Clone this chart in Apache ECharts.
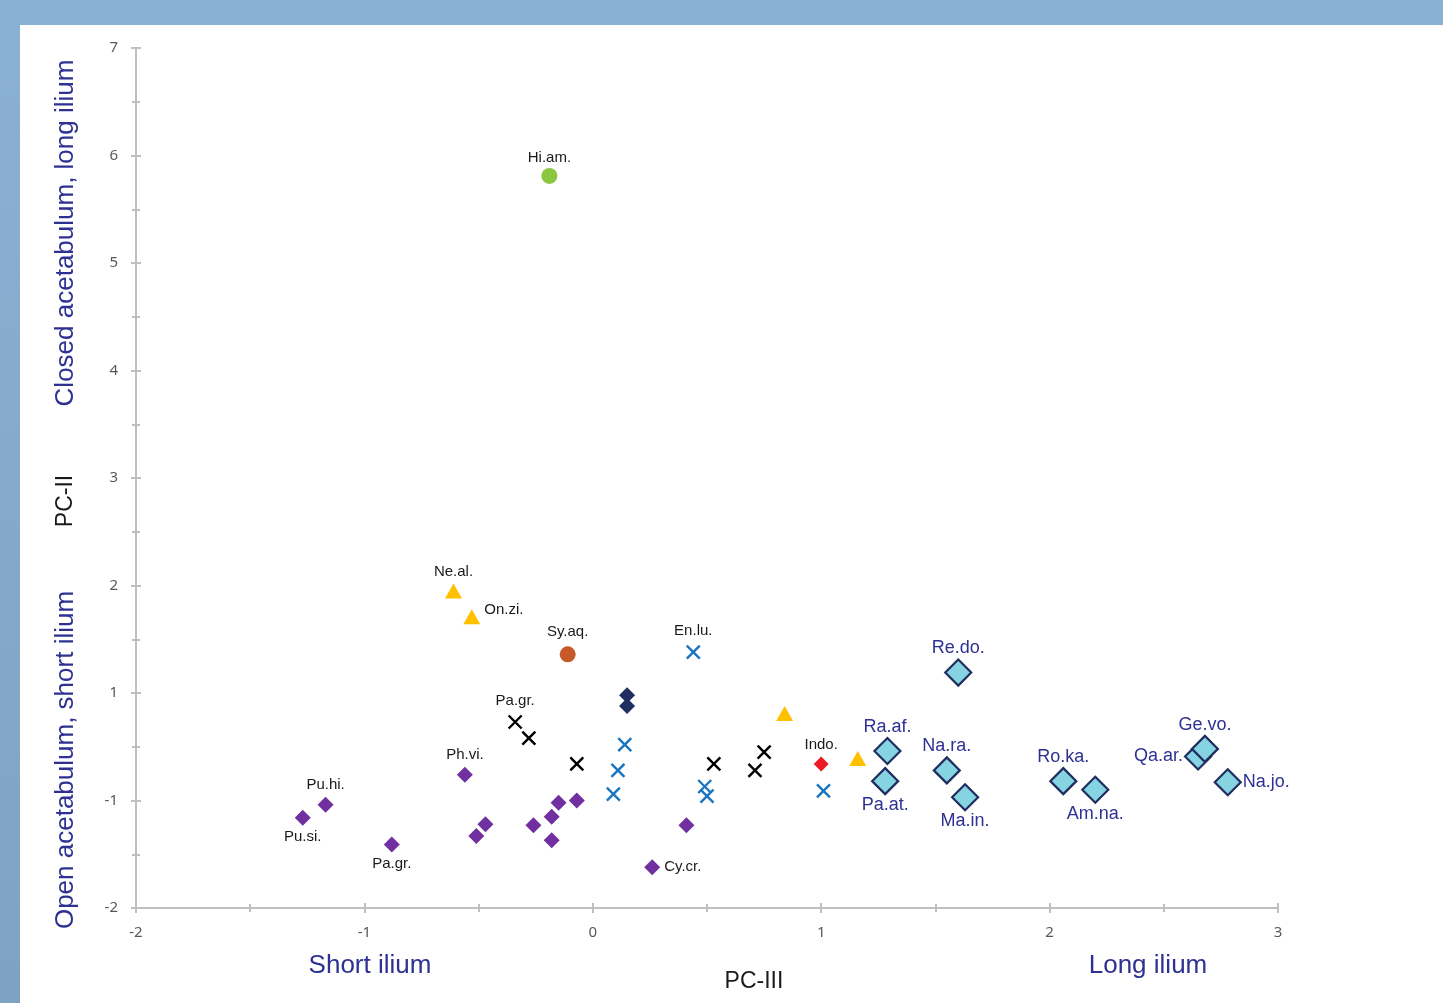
<!DOCTYPE html>
<html><head><meta charset="utf-8">
<script src="https://cdn.jsdelivr.net/npm/echarts@6/dist/echarts.min.js"></script>
<style>html,body{margin:0;padding:0;background:#fff}#c{width:1443px;height:1003px}</style>
</head><body><div id="c"></div>
<script>
// ---- Data (PC-III, PC-II) ----
const yTickLabels = ['-2', '-1', '1', '2', '3', '4', '5', '6', '7']; // labels for axis positions -1..7

const purplePts = [[-1.27,-0.16],[-1.17,-0.04],[-0.88,-0.41],[-0.56,0.24],[-0.47,-0.22],[-0.51,-0.33],[-0.26,-0.23],[-0.18,-0.15],[-0.15,-0.02],[-0.07,0.00],[-0.18,-0.37],[0.41,-0.23],[0.26,-0.62]];
const purpleNames = ['Pu.si.','Pu.hi.','Pa.gr.','Ph.vi.','','','','','','','','','Cy.cr.'];

const navyPts = [[0.15,0.98],[0.15,0.88]];
const navyNames = ['',''];

const blackXPts = [[-0.34,0.73],[-0.28,0.58],[-0.07,0.34],[0.53,0.34],[0.71,0.28],[0.75,0.45]];
const blackXNames = ['Pa.gr.','','','','',''];

const blueXPts = [[0.44,1.38],[0.14,0.52],[0.11,0.28],[0.09,0.06],[0.49,0.13],[0.50,0.04],[1.01,0.09]];
const blueXNames = ['En.lu.','','','','','',''];

const yellowPts = [[-0.61,1.95],[-0.53,1.71],[0.84,0.81],[1.16,0.39]];
const yellowNames = ['Ne.al.','On.zi.','',''];

const greenPts = [[-0.19,5.81]];
const greenNames = ['Hi.am.'];

const orangePts = [[-0.11,1.36]];
const orangeNames = ['Sy.aq.'];

const redPts = [[1.00,0.34]];
const redNames = ['Indo.'];

const bigPts = [[1.60,1.19],[1.29,0.46],[1.28,0.18],[1.55,0.28],[1.63,0.03],[2.06,0.18],[2.20,0.10],[2.65,0.41],[2.68,0.48],[2.78,0.17]];
const bigNames = ['Re.do.','Ra.af.','Pa.at.','Na.ra.','Ma.in.','Ro.ka.','Am.na.','Qa.ar.','Ge.vo.','Na.jo.'];

// ---- Label placement (style) ----
const placement = {
  'Pu.si.': 'bottom', 'Pu.hi.': 'top', 'Pa.gr.': 'top', 'Ph.vi.': 'top', 'Cy.cr.': 'right',
  'En.lu.': 'top', 'Ne.al.': 'top', 'On.zi.': 'right', 'Hi.am.': 'top', 'Sy.aq.': 'top', 'Indo.': 'top',
  'Re.do.': 'top', 'Ra.af.': 'top', 'Pa.at.': 'bottom', 'Na.ra.': 'top', 'Ma.in.': 'bottom',
  'Ro.ka.': 'top', 'Am.na.': 'bottom', 'Qa.ar.': 'left', 'Ge.vo.': 'top', 'Na.jo.': 'right'
};
const purplePlacement = Object.assign({}, placement, {'Pa.gr.': 'bottom'});

function items(pts, names, place, extra) {
  return pts.map((p, i) => {
    const n = names[i];
    const it = { value: p, name: n };
    if (n) {
      it.label = Object.assign({ show: true, position: place[n] || 'top' }, (extra && extra[n]) || {});
    }
    return it;
  });
}

const blackLabel = { formatter: '{b}', color: '#1a1a1a', fontSize: 15, fontFamily: 'Liberation Sans, Arial, sans-serif', distance: 4 };
const blueLabel = { formatter: '{b}', color: '#2E3192', fontSize: 18, fontFamily: 'Liberation Sans, Arial, sans-serif', distance: 1 };
const crossPath = 'path://M0,0L10,10M10,0L0,10';

const axisCol = '#bfbfbf';
function xAx(inside) {
  return {
    type: 'value', min: -2, max: 3, interval: 1, position: 'bottom', gridIndex: 0,
    axisLine: { show: !inside, onZero: false, lineStyle: { color: axisCol, width: 2 } },
    axisTick: { show: true, inside: inside, length: 5, lineStyle: { color: axisCol, width: 2 } },
    minorTick: { show: true, splitNumber: 2, length: 4, lineStyle: { color: axisCol, width: 2 } },
    splitLine: { show: false }, minorSplitLine: { show: false },
    axisLabel: { show: !inside, color: '#595959', fontSize: 15, margin: 17, fontFamily: 'Noto Sans, sans-serif' }
  };
}
function yAx(inside) {
  return {
    type: 'value', min: -1, max: 7, interval: 1, position: 'left', gridIndex: 0,
    axisLine: { show: !inside, onZero: false, lineStyle: { color: axisCol, width: 2 } },
    axisTick: { show: true, inside: inside, length: 5, lineStyle: { color: axisCol, width: 2 } },
    minorTick: { show: true, splitNumber: 2, length: 4, lineStyle: { color: axisCol, width: 2 } },
    splitLine: { show: false }, minorSplitLine: { show: false },
    axisLabel: { show: !inside, color: '#595959', fontSize: 15, margin: 18, fontFamily: 'Noto Sans, sans-serif',
      formatter: v => yTickLabels[Math.round(v) + 1] }
  };
}

const chart = echarts.init(document.getElementById('c'), null, { renderer: 'canvas' });
const titleFont = 'Liberation Sans, Arial, sans-serif';
chart.setOption({
  backgroundColor: '#ffffff',
  animation: false,
  grid: { left: 136, top: 48, right: 165, bottom: 95 },
  xAxis: [xAx(false), xAx(true)],
  yAxis: [yAx(false), yAx(true)],
  graphic: [
    { type: 'rect', z: -10, shape: { x: 0, y: 0, width: 1443, height: 25 }, style: { fill: '#8AB0D4' } },
    { type: 'rect', z: -10, shape: { x: 0, y: 0, width: 20, height: 1003 },
      style: { fill: new echarts.graphic.LinearGradient(0, 0, 0, 1, [{ offset: 0, color: '#8AB0D4' }, { offset: 1, color: '#7EA3C2' }]) } },
    { type: 'text', x: 66, y: 233, rotation: Math.PI / 2, style: { text: 'Closed acetabulum, long ilium', fill: '#2E3192', font: '26px ' + titleFont, textAlign: 'center', textVerticalAlign: 'middle' } },
    { type: 'text', x: 66, y: 501, rotation: Math.PI / 2, style: { text: 'PC-II', fill: '#1a1a1a', font: '23px ' + titleFont, textAlign: 'center', textVerticalAlign: 'middle' } },
    { type: 'text', x: 66, y: 760, rotation: Math.PI / 2, style: { text: 'Open acetabulum, short ilium', fill: '#2E3192', font: '26px ' + titleFont, textAlign: 'center', textVerticalAlign: 'middle' } },
    { type: 'text', x: 370, y: 966, style: { text: 'Short ilium', fill: '#2E3192', font: '26px ' + titleFont, textAlign: 'center', textVerticalAlign: 'middle' } },
    { type: 'text', x: 754, y: 982, style: { text: 'PC-III', fill: '#1a1a1a', font: '23px ' + titleFont, textAlign: 'center', textVerticalAlign: 'middle' } },
    { type: 'text', x: 1148, y: 966, style: { text: 'Long ilium', fill: '#2E3192', font: '26px ' + titleFont, textAlign: 'center', textVerticalAlign: 'middle' } }
  ],
  series: [
    { type: 'scatter', symbol: 'diamond', symbolSize: 16, itemStyle: { color: '#7030A0', opacity: 1 }, label: blackLabel,
      data: items(purplePts, purpleNames, purplePlacement) },
    { type: 'scatter', symbol: 'diamond', symbolSize: 16, itemStyle: { color: '#1F2D5F', opacity: 1 }, label: blackLabel,
      data: items(navyPts, navyNames, placement) },
    { type: 'scatter', symbol: crossPath, symbolSize: 13, itemStyle: { color: 'rgba(0,0,0,0)', borderColor: '#000000', borderWidth: 2.4, opacity: 1 }, label: Object.assign({}, blackLabel, { distance: 6 }),
      data: items(blackXPts, blackXNames, placement) },
    { type: 'scatter', symbol: crossPath, symbolSize: 13, itemStyle: { color: 'rgba(0,0,0,0)', borderColor: '#1A75C0', borderWidth: 2.4, opacity: 1 }, label: Object.assign({}, blackLabel, { distance: 6 }),
      data: items(blueXPts, blueXNames, placement) },
    { type: 'scatter', symbol: 'triangle', symbolSize: [17, 15], itemStyle: { color: '#FFC000', opacity: 1 }, label: blackLabel,
      data: items(yellowPts, yellowNames, placement, { 'On.zi.': { offset: [0, -7] } }) },
    { type: 'scatter', symbol: 'circle', symbolSize: 16, itemStyle: { color: '#8CC63F', opacity: 1 }, label: Object.assign({}, blackLabel, { distance: 3 }),
      data: items(greenPts, greenNames, placement) },
    { type: 'scatter', symbol: 'circle', symbolSize: 16, itemStyle: { color: '#C55A28', opacity: 1 }, label: Object.assign({}, blackLabel, { distance: 7 }),
      data: items(orangePts, orangeNames, placement) },
    { type: 'scatter', symbol: 'diamond', symbolSize: 15, itemStyle: { color: '#ED1C24', opacity: 1 }, label: blackLabel,
      data: items(redPts, redNames, placement) },
    { type: 'scatter', symbol: 'diamond', symbolSize: 26, itemStyle: { color: '#86D3E2', borderColor: '#1F2D5F', borderWidth: 2.2, opacity: 1 }, label: blueLabel,
      data: items(bigPts, bigNames, placement) }
  ]
});
</script>
</body></html>
